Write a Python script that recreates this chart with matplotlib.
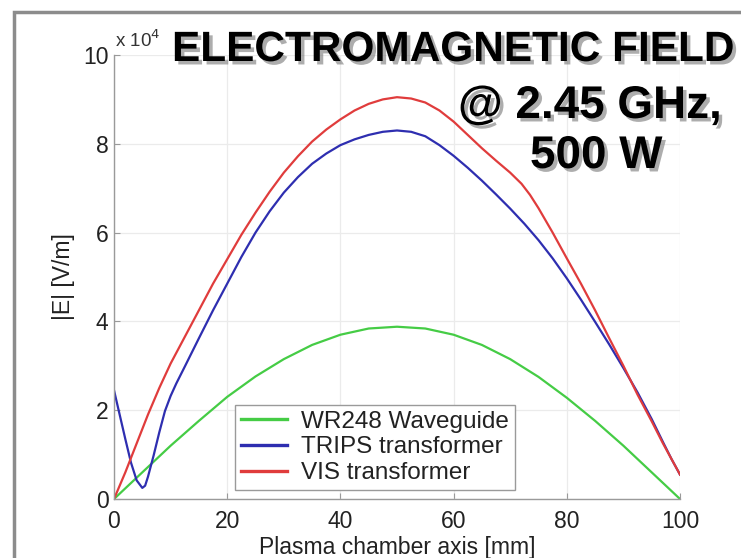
import matplotlib
matplotlib.use("Agg")
import matplotlib.pyplot as plt
import matplotlib.patheffects as pe
from matplotlib.patches import Rectangle

plt.rcParams['font.family'] = ['Liberation Sans', 'DejaVu Sans']

# ---- data (|E| in units of 1e4 V/m) ----
x_wr = [0, 5, 10, 15, 20, 25, 30, 35, 40, 45, 50, 55, 60, 65, 70, 75, 80, 85, 90, 95, 100]
e_wr = [0, 0.6, 1.2, 1.76, 2.3, 2.76, 3.15, 3.47, 3.7, 3.84, 3.88, 3.84, 3.7, 3.47, 3.15, 2.75,
        2.28, 1.76, 1.2, 0.6, 0]

x_trips = [0, 1, 2, 3, 4, 5, 5.5, 6, 7, 8, 9, 10, 11, 12.5, 15, 17.5, 20, 22.5, 25, 27.5, 30,
           32.5, 35, 37.5, 40, 42.5, 45, 47.5, 50, 52.5, 55, 57.5, 60, 62.5, 65, 67.5, 70, 72.5,
           75, 77.5, 80, 82.5, 85, 87.5, 90, 92.5, 95, 97, 98.5, 100]
e_trips = [2.45, 1.9, 1.35, 0.82, 0.42, 0.25, 0.3, 0.5, 0.98, 1.5, 1.98, 2.32, 2.6, 2.98, 3.62,
           4.25, 4.85, 5.45, 6.0, 6.48, 6.9, 7.25, 7.55, 7.78, 7.97, 8.1, 8.2, 8.27, 8.3, 8.27,
           8.17, 7.97, 7.73, 7.46, 7.17, 6.86, 6.54, 6.2, 5.83, 5.42, 4.97, 4.49, 3.99, 3.48,
           2.95, 2.4, 1.8, 1.28, 0.9, 0.55]

x_vis = [0, 2, 4, 6, 8, 10, 12.5, 15, 17.5, 20, 22.5, 25, 27.5, 30, 32.5, 35, 37.5, 40, 42.5,
         45, 47.5, 50, 52.5, 55, 57.5, 60, 62.5, 65, 67.5, 70, 72, 73.5, 75, 77.5, 80, 82.5, 85,
         87.5, 90, 92.5, 95, 97, 98.5, 100]
e_vis = [0, 0.6, 1.25, 1.9, 2.5, 3.05, 3.65, 4.25, 4.85, 5.4, 5.95, 6.45, 6.92, 7.35, 7.72,
         8.05, 8.32, 8.55, 8.75, 8.9, 9.0, 9.05, 9.02, 8.93, 8.75, 8.5, 8.2, 7.9, 7.62, 7.35,
         7.1, 6.85, 6.55, 6.0, 5.42, 4.85, 4.25, 3.62, 3.0, 2.35, 1.75, 1.25, 0.9, 0.55]

labels = ['WR248 Waveguide', 'TRIPS transformer', 'VIS transformer']
colors = ['#45cc45', '#2e2eb0', '#e03c3c']
xticks = [0, 20, 40, 60, 80, 100]
yticks = [0, 2, 4, 6, 8, 10]

W, H = 741, 558
fig = plt.figure(figsize=(W / 100, H / 100), dpi=100)
fig.patch.set_facecolor('white')

# outer grey frame (partially cropped)
fig.patches.append(Rectangle((14 / W, -0.1), 1.2, 1 - 12 / H + 0.1, transform=fig.transFigure,
                             fill=False, edgecolor='#8c8c8c', linewidth=2.5))

ax = fig.add_axes([114 / W, 1 - 499 / H, (680 - 114) / W, (499 - 55) / H])
ax.plot(x_wr, e_wr, color=colors[0], lw=1.6, label=labels[0])
ax.plot(x_trips, e_trips, color=colors[1], lw=1.6, label=labels[1])
ax.plot(x_vis, e_vis, color=colors[2], lw=1.6, label=labels[2])

ax.set_xlim(0, 100)
ax.set_ylim(0, 10)
ax.set_xticks(xticks)
ax.set_yticks(yticks)
ax.grid(True, color='#ebebeb', lw=0.9)
ax.set_axisbelow(True)
for s in ['top', 'right']:
    ax.spines[s].set_visible(False)
for s in ['left', 'bottom']:
    ax.spines[s].set_color('#9a9a9a')
    ax.spines[s].set_linewidth(1.0)
ax.tick_params(direction='in', length=4, color='#9a9a9a', labelsize=16.5, labelcolor='#222222', pad=4)
ax.tick_params(axis='x', pad=8)

ax.set_xlabel('Plasma chamber axis [mm]', fontsize=16.5, color='#222222', labelpad=2)
ax.set_ylabel('|E| [V/m]', fontsize=16.5, color='#222222', labelpad=6)

ax.text(0.002, 1.01, 'x 10$^4$', transform=ax.transAxes, fontsize=13.5, color='#333333',
        ha='left', va='bottom')

leg = ax.legend(loc='lower left', bbox_to_anchor=(0.214, 0.02), borderaxespad=0, fontsize=17.5,
                frameon=True, fancybox=False, edgecolor='#9a9a9a', framealpha=1,
                handlelength=1.9, handletextpad=0.55, labelspacing=0.15, borderpad=0.25)
leg.get_frame().set_linewidth(1.0)
for t in leg.get_texts():
    t.set_color('#222222')
for l in leg.get_lines():
    l.set_linewidth(2.4)

shadow = [pe.SimplePatchShadow(offset=(2.5, -2.5), shadow_rgbFace='#777777', alpha=0.6), pe.Normal()]
fig.text(172 / W, 1 - 61 / H, 'ELECTROMAGNETIC FIELD', fontsize=30.5, fontweight='bold',
         color='black', ha='left', va='baseline', path_effects=shadow)
fig.text(458 / W, 1 - 118 / H, '@ 2.45 GHz,', fontsize=33, fontweight='bold',
         color='black', ha='left', va='baseline', path_effects=shadow)
fig.text(530 / W, 1 - 168 / H, '500 W', fontsize=33, fontweight='bold',
         color='black', ha='left', va='baseline', path_effects=shadow)

fig.savefig('out.png', dpi=100, facecolor='white')
